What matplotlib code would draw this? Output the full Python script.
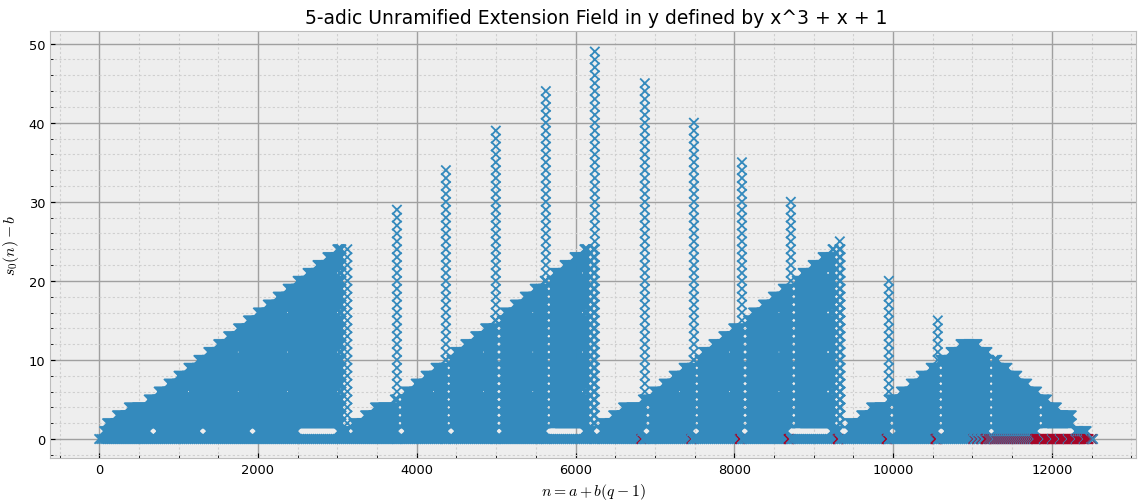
# s_q(n) - b cloud for the 5-adic extension
import numpy as np
import matplotlib
matplotlib.use('Agg')
import matplotlib.pyplot as plt

# upper edge of the cloud: a step starts at step_x and has height step_top
step_x = [0, 60, 100, 225, 365, 625, 750, 875, 1000, 1125, 1250, 1375, 1500, 1625, 1750, 1875,
          2000, 2125, 2250, 2375, 2500, 2625, 2750, 2875, 3000,
          3130, 3200, 3350, 3470, 3725, 3860, 3985, 4110, 4235, 4360, 4485, 4610, 4735, 4860, 4985,
          5110, 5235, 5360, 5485, 5610, 5735, 5860, 5985, 6110,
          6230, 6320, 6475, 6595, 6850, 6985, 7110, 7235, 7360, 7485, 7610, 7735, 7860, 7985, 8110,
          8235, 8360, 8485, 8610, 8735, 8860, 8985, 9110, 9235,
          9340, 9450, 9600, 9720, 9975, 10100, 10225, 10350, 10475, 10600, 10725, 10850,
          11075, 11200, 11325, 11450, 11575, 11700, 11825, 11950, 12075, 12255, 12450]
step_top = [0, 1, 2, 3, 4, 5, 6, 7, 8, 9, 10, 11, 12, 13, 14, 15,
            16, 17, 18, 19, 20, 21, 22, 23, 24,
            0, 2, 3, 4, 5, 6, 7, 8, 9, 10, 11, 12, 13, 14, 15,
            16, 17, 18, 19, 20, 21, 22, 23, 24,
            0, 2, 3, 4, 5, 6, 7, 8, 9, 10, 11, 12, 13, 14, 15,
            16, 17, 18, 19, 20, 21, 22, 23, 24,
            0, 2, 3, 4, 5, 6, 7, 8, 9, 10, 11, 12,
            11, 10, 9, 8, 7, 6, 5, 4, 3, 1, 0]

# tall single columns
spike_x = [3750, 4367, 4996, 5626, 6243, 6873, 7491, 8096, 8712, 9329, 9946, 10563, 11270, 11900, 12519]
spike_top = [29, 34, 39, 44, 49, 45, 40, 35, 30, 25, 20, 15, 10, 5, 0]

# gaps in the row y = 1
gap_start = [635, 1260, 1885, 2490, 3130, 3755, 4380, 5000, 5620, 6225, 6850, 7470, 8085,
             8670, 9320, 9950, 10560, 11190, 11810]
gap_end = [730, 1355, 1980, 3000, 3205, 3850, 4475, 5085, 6110, 6310, 6945, 7565, 8180,
           9215, 9405, 10045, 10655, 11285, 12290]

# small star shaped gaps
star_x = [1125, 1750, 2375, 3000, 1750, 2375, 3000, 2375, 3000, 3000,
          4214, 4840, 5460, 6090, 4840, 5460, 6090, 5460, 6090, 6090,
          7310, 7937, 8560, 9180, 7937, 8560, 9180, 8560, 9180, 9180]
star_y = [6, 6, 6, 6, 11, 11, 11, 16, 16, 21,
          6, 6, 6, 6, 11, 11, 11, 16, 16, 21,
          6, 6, 6, 6, 11, 11, 11, 16, 16, 21]

# columns with a gap on every row
hollow_x = [3085, 3785, 4402, 5031, 5661, 6190, 6908, 7526, 8131, 8747, 9290, 9981, 10598, 11245, 11860]
hollow_top = [24, 5, 10, 15, 20, 24, 4, 10, 15, 20, 24, 4, 9, 10, 4]

# red points in the bottom row, site by site
red_x = [6830, 7460, 8070, 8078, 8685, 8692, 8699, 9303, 9310, 9317, 9920, 9927, 9934,
         10535, 10542, 10549, 10556, 11165, 11172, 11179, 11186,
         11790, 11797, 11804, 11811]
# thin red points running along the end of the bottom row
red_run_x = [11012, 11062, 11112, 11212, 11237, 11262, 11287, 11312, 11337, 11362, 11387, 11412,
             11437, 11462, 11487, 11512, 11537, 11562, 11587, 11612, 11637, 11662, 11687, 11712,
             11737, 11762, 11825, 11838, 11850, 11863, 11875, 11888, 11900, 11913, 11925, 11938,
             11950, 11963, 11975, 11988, 12000, 12013, 12025, 12038, 12050, 12063, 12075, 12088,
             12100, 12113, 12125, 12138, 12150, 12163, 12175, 12188, 12200, 12213, 12225, 12238,
             12250, 12263, 12275, 12288, 12300, 12313, 12325, 12338, 12350, 12363, 12375, 12388,
             12400, 12413, 12425, 12438, 12450, 12463, 12510]

blue = '#348ABD'
red = '#A60628'

plt.style.use('bmh')
plt.rcParams['font.size'] = 9.4

xs, ys, cs = [], [], []
for rx in red_x + red_run_x:
    xs.append(rx)
    ys.append(0)
    cs.append(red)

gap_start_arr = np.array(gap_start)
gap_end_arr = np.array(gap_end)
columns = np.arange(0, 12501, 12.5)
step_index = np.searchsorted(step_x, columns, side='right') - 1
for col, idx in zip(columns, step_index):
    for row in range(step_top[idx] + 1):
        if row == 0:
            # the bottom row stays coarser so the red points show between the blue ones
            if col % 25 != 0:
                continue
            if any(0 <= col - rx <= 12 for rx in red_x):
                continue
            if 11825 <= col <= 12480 and col % 100 != 0:
                continue
        if row == 1 and np.any((col >= gap_start_arr) & (col <= gap_end_arr)):
            continue
        if any(sy == row and abs(col - hx) < 22 for hx, sy in zip(star_x, star_y)):
            continue
        if row >= 2 and any(row <= t and abs(col - hx) < 35 for hx, t in zip(hollow_x, hollow_top)):
            continue
        xs.append(col)
        ys.append(row)
        cs.append(blue)

for sx, top in zip(spike_x, spike_top):
    for row in range(top + 1):
        if row == 1 and top > 0:
            continue
        xs.append(sx)
        ys.append(row)
        cs.append(blue)

xs = np.array(xs)
ys = np.array(ys)
cs = np.array(cs)
order = np.argsort(xs, kind='stable')

fig, ax = plt.subplots(figsize=(11.38, 5.02), dpi=100)
fig.subplots_adjust(left=50/1138, right=1136/1138, top=1-32/502, bottom=1-459/502)
ax.scatter(xs[order], ys[order], c=cs[order], marker='x', s=46, linewidths=1.3)
ax.set_xlim(-620, 13060)
ax.set_ylim(-2.4, 51.6)
ax.set_axisbelow(True)
ax.minorticks_on()
ax.grid(True, which='major', color='#a0a0a0', linestyle='-', linewidth=1)
ax.grid(True, which='minor', color='#cfcfcf', linestyle=(0, (2, 2)), linewidth=0.8)
ax.set_title('5-adic Unramified Extension Field in y defined by x^3 + x + 1', pad=6, x=0.503)
ax.set_xlabel(r'$n = a + b(q-1)$')
ax.set_ylabel(r'$s_0(n) - b$')
ax.yaxis.set_label_coords(-0.0265, 0.5)
fig.savefig('out.png', dpi=100)
